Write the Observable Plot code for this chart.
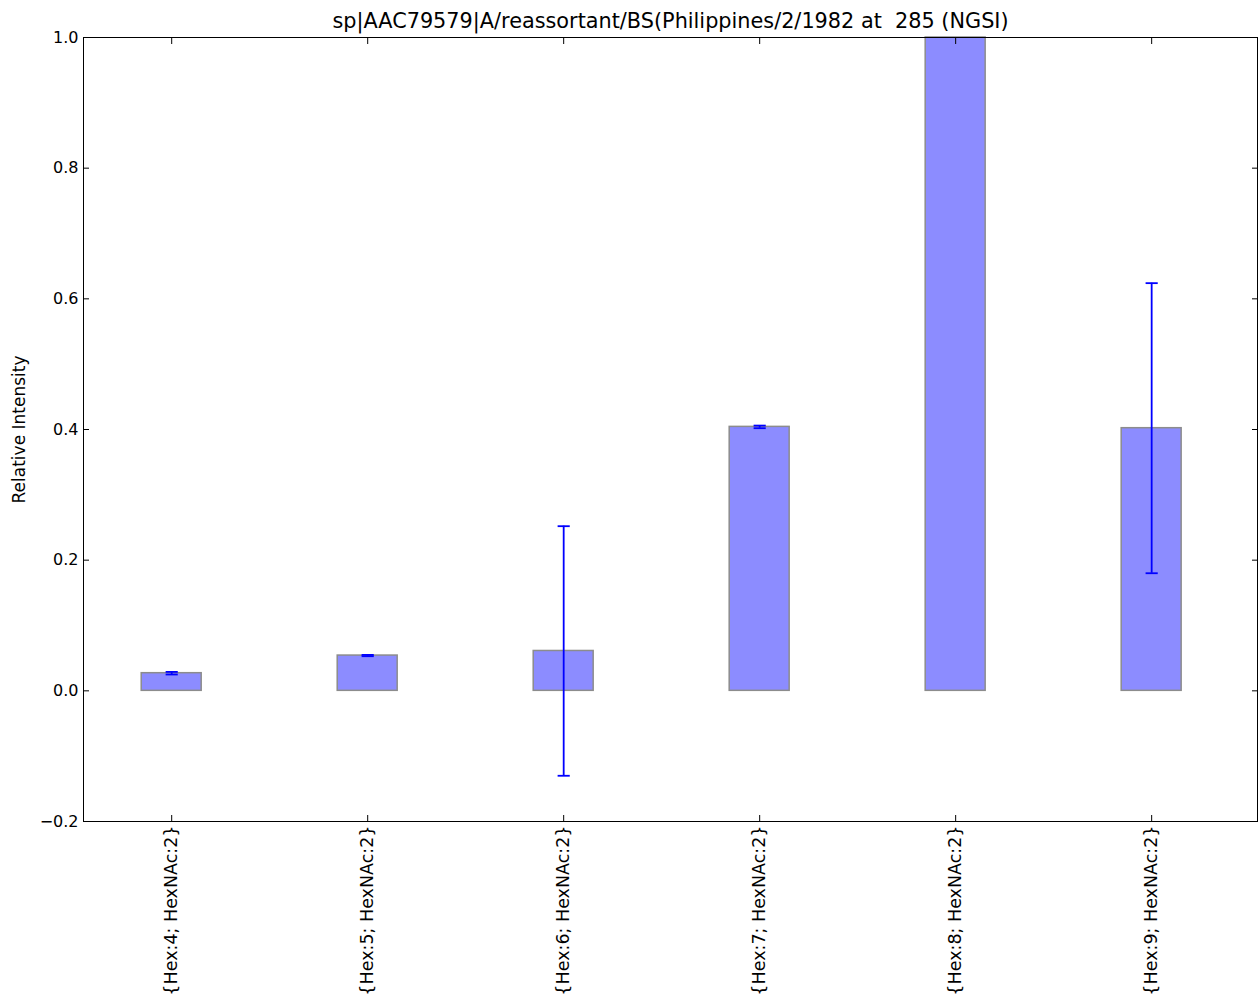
<!DOCTYPE html>
<html>
<head>
<meta charset="utf-8">
<script src="https://cdn.jsdelivr.net/npm/d3@7"></script>
<script src="https://cdn.jsdelivr.net/npm/@observablehq/plot@0.6"></script>
<style>
  body { margin: 0; background: #fff; }
  svg { display: block; }
</style>
</head>
<body>
<div id="chart"></div>
<script>
// Glycoform compositions at the site, with mean relative intensity and spread
const categories = [
  "{Hex:4; HexNAc:2}",
  "{Hex:5; HexNAc:2}",
  "{Hex:6; HexNAc:2}",
  "{Hex:7; HexNAc:2}",
  "{Hex:8; HexNAc:2}",
  "{Hex:9; HexNAc:2}"
];
const intensity = [0.027, 0.054, 0.061, 0.404, 1.0, 0.402];
const errors = [0.002, 0.001, 0.191, 0.002, 0.0, 0.222];
const yTicks = [-0.2, 0.0, 0.2, 0.4, 0.6, 0.8, 1.0];
const titleText = "sp|AAC79579|A/reassortant/BS(Philippines/2/1982 at\u00a0 285 (NGSI)";
const yLabel = "Relative Intensity";

const rows = categories.map((c, i) => ({i, c, v: intensity[i], e: errors[i]}));
const barHalf = 0.153;
const capHalf = 0.031;
const caps = rows.filter(d => d.e > 0).flatMap(d => [
  {i: d.i, y: d.v - d.e},
  {i: d.i, y: d.v + d.e}
]);
const xIdx = categories.map((c, i) => i);
const fmt = d => d.toFixed(1).replace("-", "\u2212");
const blank = () => "";

const chart = Plot.plot({
  width: 1258,
  height: 1002,
  marginLeft: 83,
  marginRight: 1,
  marginTop: 37,
  marginBottom: 181,
  style: {fontFamily: "DejaVu Sans", fontSize: "16px", color: "#000", background: "#fff"},
  x: {domain: [-0.45, 5.54]},
  y: {domain: [-0.2, 1.0]},
  marks: [
    // bars
    Plot.rect(rows, {
      x1: d => d.i - barHalf, x2: d => d.i + barHalf,
      y1: 0, y2: "v",
      fill: "#8c8cff", stroke: "#8c8c8c", strokeWidth: 1.5
    }),
    // error bars
    Plot.ruleX(rows.filter(d => d.e > 0), {
      x: "i", y1: d => d.v - d.e, y2: d => d.v + d.e,
      stroke: "#0000ff", strokeWidth: 1.8
    }),
    Plot.link(caps, {
      x1: d => d.i - capHalf, x2: d => d.i + capHalf, y1: "y", y2: "y",
      stroke: "#0000ff", strokeWidth: 1.8
    }),
    Plot.frame({stroke: "#000", strokeWidth: 1}),
    // inward tick marks on all four sides
    Plot.axisY(yTicks, {anchor: "left", tickSize: 6, dx: 6, tickFormat: blank, label: null, stroke: "#000"}),
    Plot.axisY(yTicks, {anchor: "right", tickSize: 6, dx: -6, tickFormat: blank, label: null, stroke: "#000"}),
    Plot.axisX(xIdx, {anchor: "top", tickSize: 6, dy: 6, tickFormat: blank, label: null, stroke: "#000"}),
    Plot.axisX(xIdx, {anchor: "bottom", tickSize: 6, dy: -6, tickFormat: blank, label: null, stroke: "#000"}),
    // tick labels
    Plot.axisY(yTicks, {anchor: "left", tickSize: 0, tickPadding: 5, tickFormat: fmt, label: null, fontSize: 16}),
    Plot.axisX(xIdx, {anchor: "bottom", tickSize: 0, tickPadding: 4, tickRotate: -90, tickFormat: i => categories[i], label: null, fontSize: 17.5}),
    // title and axis label
    Plot.text([titleText], {frameAnchor: "top", dy: -16, lineAnchor: "middle", fontSize: 20.8, fill: "#000"}),
    Plot.text([yLabel], {frameAnchor: "left", dx: -64, rotate: -90, textAnchor: "middle", lineAnchor: "middle", fontSize: 17, fill: "#000"})
  ]
});
document.getElementById("chart").appendChild(chart);
</script>
</body>
</html>
